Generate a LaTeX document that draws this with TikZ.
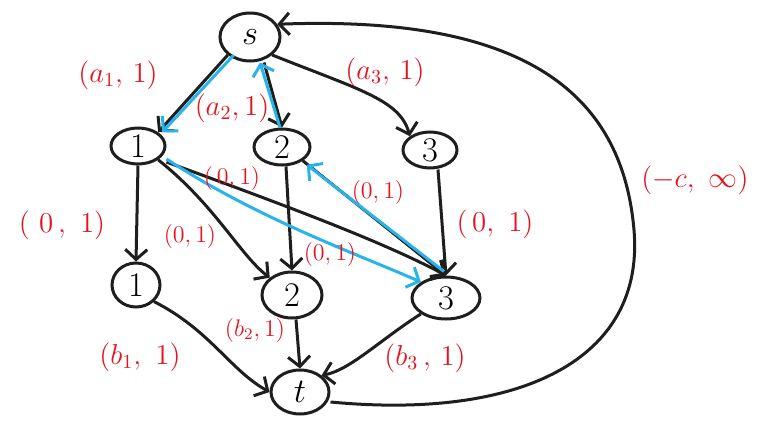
\documentclass[tikz,border=0pt]{standalone}
\usepackage{amsmath,amssymb}
\usepackage{xcolor}
\definecolor{penred}{RGB}{228,20,30}
\definecolor{penblue}{RGB}{40,180,235}
\definecolor{penblack}{RGB}{30,30,30}
\usepackage{tikz}
\usetikzlibrary{shapes.geometric, arrows.meta}

\begin{document}
\begin{tikzpicture}[
    x=0.5pt, y=-0.5pt,
    vertex/.style={ellipse, draw=penblack, line width=1.5pt, inner sep=0pt,
                   minimum width=27pt, minimum height=18pt, font=\LARGE},
    flow/.style={-{Straight Barb[length=5pt, width=11pt, line width=1.5pt]},
                 line width=1.5pt, penblack},
    residual/.style={-{Straight Barb[length=5pt, width=11pt, line width=1.5pt]},
                     line width=1.5pt, penblue},
    cost/.style={font=\Large, text=penred},
  ]
    \useasboundingbox (0,0) rectangle (768,434);

    % --- Vertices ---
    \node[vertex, minimum width=30pt, minimum height=24pt] (s) at (250, 37) {$s$};
    \node[vertex] (u1) at (138, 146) {1};
    \node[vertex, minimum width=28pt] (u2) at (282, 147) {2};
    \node[vertex] (u3) at (430, 150) {3};
    \node[vertex, minimum width=24pt, minimum height=22pt] (v1) at (136, 285) {1};
    \node[vertex, minimum width=30pt, minimum height=23pt] (v2) at (292, 295) {2};
    \node[vertex, minimum width=34pt, minimum height=21pt] (v3) at (446, 298) {3};
    \node[vertex, minimum width=29pt, minimum height=22pt] (t) at (300, 392) {$t$};

    % --- Source edges ---
    \draw[flow] (s.south west) -- (u1.north east);
    \draw[flow] (s.south) ++(14,0) -- (u2.north);
    \draw[flow] (s.south east) .. controls (360, 90) and (400, 100) .. (u3.north west);

    % --- Middle edges ---
    \draw[flow] (u1.south) -- (v1.north);
    \draw[flow] (u1.south east) .. controls (215, 205) and (240, 255) .. (v2.north west);
    \draw[flow] (u1.east) ++(0,16) .. controls (270, 200) and (380, 240) .. (v3.north);
    \draw[flow] (u2.south) ++(4,0) -- (v2.north);
    \draw[flow] (u2.south east) -- (v3.north);
    \draw[flow] (u3.south) ++(8,0) -- (v3.north);

    % --- Sink edges ---
    \draw[flow] (v1.south east) .. controls (210, 330) and (230, 370) .. (t.west);
    \draw[flow] (v2.south) ++(4,0) -- (t.north);
    \draw[flow] (v3.south west) .. controls (380, 340) and (350, 370) .. (t.north east);

    % --- Return edge t -> s ---
    \draw[flow] (t.east) ++(0,10) .. controls (520, 420) and (645, 360) .. (634, 230)
      .. controls (622, 90) and (520, 15) .. (s.25);

    % --- Residual path (blue) ---
    \draw[residual] (s.south west) ++(6,0) -- ([xshift=2pt]u1.north east);
    \draw[residual] (u2.north) ++(-2,0) -- ([xshift=5pt]s.south);
    \draw[residual] (u1.east) ++(0,13) .. controls (260, 220) and (360, 255) .. (v3.north west);
    \draw[residual] (v3.north) ++(-2,-4) -- ([xshift=2pt,yshift=-2pt]u2.south east);

    % --- Capacities and costs ---
    \node[cost] (c1) at (118, 75)  {$(a_1,\, 1)$};
    \node[cost] (c2) at (232, 108) {$(a_2,1)$};
    \node[cost] (c3) at (385, 72)  {$(a_3,\, 1)$};
    \node[cost, font=\large] (c4) at (232, 178) {$(\,0,1)$};
    \node[cost, font=\large] (c5) at (378, 192) {$(0,1)$};
    \node[cost] (c6) at (495, 224) {$(\,0,\ 1)$};
    \node[cost] (c7) at (62, 225)  {$(\ 0\,,\ 1)$};
    \node[cost, font=\large] (c8) at (190, 236) {$(0,1)$};
    \node[cost, font=\large] (c9) at (330, 254) {$(0,1)$};
    \node[cost] (c10) at (140, 357) {$(b_1,\ 1)$};
    \node[cost, font=\large] (c11) at (255, 330) {$(b_2,1)$};
    \node[cost] (c12) at (425, 358) {$(b_3\,,\, 1)$};
    \node[cost] (c13) at (695, 180) {$(-c,\ \infty)$};
  \end{tikzpicture}
\end{document}
